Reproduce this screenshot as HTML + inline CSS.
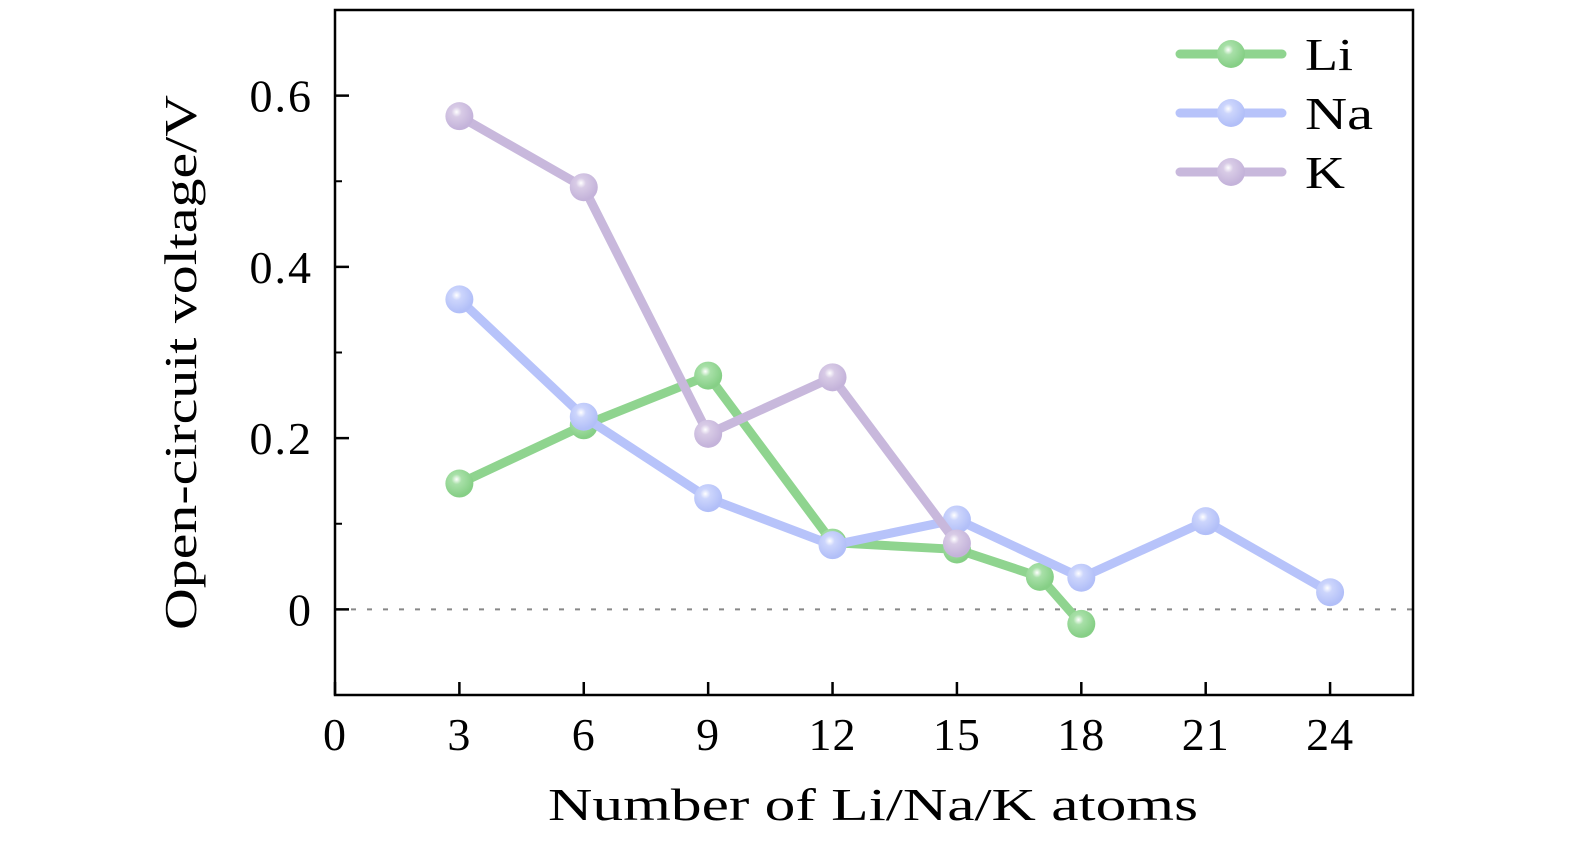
<!DOCTYPE html>
<html><head><meta charset="utf-8"><style>
body{margin:0;background:#fff;}
svg text{font-family:"Liberation Serif",serif;fill:#000;}
</style></head><body>
<svg id="chart" width="1575" height="846" xmlns="http://www.w3.org/2000/svg">
<defs>
<radialGradient id="gLi" cx="0.4" cy="0.35" r="0.6"><stop offset="0" stop-color="#ffffff"/><stop offset="0.3" stop-color="#a8e0a8"/><stop offset="1" stop-color="#86cf86"/></radialGradient>
<radialGradient id="gNa" cx="0.4" cy="0.35" r="0.6"><stop offset="0" stop-color="#ffffff"/><stop offset="0.3" stop-color="#ccd5fc"/><stop offset="1" stop-color="#b2bff8"/></radialGradient>
<radialGradient id="gK" cx="0.4" cy="0.35" r="0.6"><stop offset="0" stop-color="#ffffff"/><stop offset="0.3" stop-color="#d8cbe6"/><stop offset="1" stop-color="#c4b3da"/></radialGradient>
</defs>
<g id="plot"></g>
</svg>
<script>
const xTicks=[0,3,6,9,12,15,18,21,24];
const yTicks=[0,0.2,0.4,0.6];
const yTickLabels=["0","0.2","0.4","0.6"];
const yMinor=[-0.1,0.1,0.3,0.5,0.7];
const seriesNames=["Li","Na","K"];
const liX=[3,6,9,12,15,17,18];
const liY=[0.147,0.215,0.273,0.078,0.070,0.038,-0.017];
const naX=[3,6,9,12,15,18,21,24];
const naY=[0.362,0.225,0.130,0.075,0.105,0.037,0.103,0.020];
const kX=[3,6,9,12,15];
const kY=[0.576,0.493,0.205,0.271,0.077];

const L=335,R=1413,T=10,B=695,x0=0,x1=26,y0=-0.1,y1=0.7;
const sx=v=>L+(v-x0)/(x1-x0)*(R-L);
const sy=v=>B-(v-y0)/(y1-y0)*(B-T);
const NS="http://www.w3.org/2000/svg";
const g=document.getElementById('plot');
function mk(tag,attrs,parent){const e=document.createElementNS(NS,tag);for(const k in attrs)e.setAttribute(k,attrs[k]);(parent||g).appendChild(e);return e;}

let e=mk('line',{x1:L,x2:R,y1:sy(0),y2:sy(0),stroke:'#888','stroke-width':2,'stroke-dasharray':'5,11'});



const colors={Li:'#8fd48f',Na:'#b7c3fa',K:'#c8b8dc'};
const grads={Li:'url(#gLi)',Na:'url(#gNa)',K:'url(#gK)'};
const data={Li:[liX,liY],Na:[naX,naY],K:[kX,kY]};
seriesNames.forEach(n=>{
  const [xs,ys]=data[n];
  const pts=xs.map((x,i)=>sx(x)+','+sy(ys[i])).join(' ');
  let pl=mk('polyline',{points:pts,fill:'none',stroke:colors[n],'stroke-width':9,'stroke-linejoin':'round','stroke-linecap':'round'});
  
  
  xs.forEach((x,i)=>{
    let c=mk('circle',{cx:sx(x),cy:sy(ys[i]),r:14,fill:grads[n]});
    
    
  });
});

let ax=mk('rect',{x:L,y:T,width:R-L,height:B-T,fill:'none',stroke:'#000','stroke-width':2.5});



xTicks.forEach(v=>{
  let t=mk('line',{x1:sx(v),x2:sx(v),y1:B,y2:B-13,stroke:'#000','stroke-width':2.5});
  
  
  let l=mk('text',{x:sx(v),y:750,'text-anchor':'middle','font-size':46,'letter-spacing':1});
  l.textContent=String(v);
  
  
});
yTicks.forEach((v,i)=>{
  let t=mk('line',{x1:L,x2:L+14,y1:sy(v),y2:sy(v),stroke:'#000','stroke-width':2.5});
  
  
  let l=mk('text',{x:313,y:sy(v)+16,'text-anchor':'end','font-size':46,'letter-spacing':2});
  l.textContent=yTickLabels[i];
  
  
});
yMinor.forEach(v=>{
  let t=mk('line',{x1:L,x2:L+7,y1:sy(v),y2:sy(v),stroke:'#000','stroke-width':2});
  
  
});

let xt=mk('text',{x:548,y:820,'font-size':46,textLength:650,lengthAdjust:'spacingAndGlyphs'});
xt.textContent='Number of Li/Na/K atoms';


let yt=mk('text',{x:0,y:0,'font-size':46,textLength:535,lengthAdjust:'spacingAndGlyphs',transform:'translate(196,630) rotate(-90)'});
yt.textContent='Open-circuit voltage/V';



const legendLen={Li:48,Na:68,K:40};
seriesNames.forEach((n,i)=>{
  const y=54+i*59;
  let lg=mk('g',{});
  
  
  mk('line',{x1:1180,x2:1282,y1:y,y2:y,stroke:colors[n],'stroke-width':9,'stroke-linecap':'round'},lg);
  mk('circle',{cx:1231,cy:y,r:14,fill:grads[n]},lg);
  let t=mk('text',{x:1305,y:y+16,'font-size':46,textLength:legendLen[n],lengthAdjust:'spacingAndGlyphs'},lg);
  t.textContent=n;
});
</script>
</body></html>
